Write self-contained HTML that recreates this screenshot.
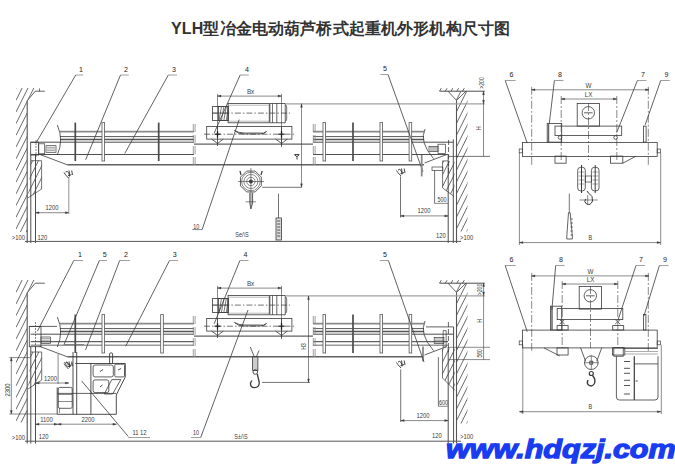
<!DOCTYPE html>
<html><head><meta charset="utf-8"><style>
html,body{margin:0;padding:0;background:#fff;width:675px;height:468px;overflow:hidden;position:relative}
.title{position:absolute;left:171px;top:19px;letter-spacing:0.14px;font-family:"Liberation Sans", sans-serif;font-weight:bold;font-size:16px;color:#333;white-space:nowrap;line-height:20px}
.wm{position:absolute;left:446px;top:433.7px;font-family:"Liberation Sans", sans-serif;font-weight:bold;font-style:italic;font-size:26px;color:#1a3cf0;white-space:nowrap;line-height:30px;transform:scaleX(1.175);transform-origin:0 0;-webkit-text-stroke:1.3px #1a3cf0}
</style></head><body>
<div class="title">YLH型冶金电动葫芦桥式起重机外形机构尺寸图</div>
<svg width="675" height="468" viewBox="0 0 675 468" style="position:absolute;left:0;top:0" font-family="'Liberation Sans', sans-serif">
<clipPath id="c1"><polygon points="16,88 36,88 27.2,100.8 27.2,232 16,232"/></clipPath>
<g clip-path="url(#c1)">
<line x1="16" y1="76.9" x2="56" y2="-3.1" stroke="#444" stroke-width="0.8" />
<line x1="16" y1="88.6" x2="56" y2="8.6" stroke="#444" stroke-width="0.8" />
<line x1="16" y1="100.3" x2="56" y2="20.3" stroke="#444" stroke-width="0.8" />
<line x1="16" y1="112" x2="56" y2="32" stroke="#444" stroke-width="0.8" />
<line x1="16" y1="123.7" x2="56" y2="43.7" stroke="#444" stroke-width="0.8" />
<line x1="16" y1="135.4" x2="56" y2="55.4" stroke="#444" stroke-width="0.8" />
<line x1="16" y1="147.1" x2="56" y2="67.1" stroke="#444" stroke-width="0.8" />
<line x1="16" y1="158.8" x2="56" y2="78.8" stroke="#444" stroke-width="0.8" />
<line x1="16" y1="170.5" x2="56" y2="90.5" stroke="#444" stroke-width="0.8" />
<line x1="16" y1="182.2" x2="56" y2="102.2" stroke="#444" stroke-width="0.8" />
<line x1="16" y1="193.9" x2="56" y2="113.9" stroke="#444" stroke-width="0.8" />
<line x1="16" y1="205.6" x2="56" y2="125.6" stroke="#444" stroke-width="0.8" />
<line x1="16" y1="217.3" x2="56" y2="137.3" stroke="#444" stroke-width="0.8" />
<line x1="16" y1="229" x2="56" y2="149" stroke="#444" stroke-width="0.8" />
<line x1="16" y1="240.7" x2="56" y2="160.7" stroke="#444" stroke-width="0.8" />
<line x1="16" y1="252.4" x2="56" y2="172.4" stroke="#444" stroke-width="0.8" />
<line x1="16" y1="264.1" x2="56" y2="184.1" stroke="#444" stroke-width="0.8" />
<line x1="16" y1="275.8" x2="56" y2="195.8" stroke="#444" stroke-width="0.8" />
</g>
<line x1="27.2" y1="100.8" x2="27.2" y2="243" stroke="#555" stroke-width="1.1" />
<polyline points="27.2,100.8 35.2,91.2 44.8,91.2" stroke="#3a3a3a" stroke-width="0.8" fill="none" />
<line x1="39.5" y1="88.5" x2="39.5" y2="91.2" stroke="#3a3a3a" stroke-width="0.7" />
<line x1="439.6" y1="91.2" x2="484.8" y2="91.2" stroke="#3a3a3a" stroke-width="0.9" />
<line x1="439.5" y1="91.2" x2="441.3" y2="88.2" stroke="#3a3a3a" stroke-width="0.8" />
<line x1="445.3" y1="91.2" x2="447.1" y2="88.2" stroke="#3a3a3a" stroke-width="0.8" />
<line x1="451" y1="91.2" x2="452.8" y2="88.2" stroke="#3a3a3a" stroke-width="0.8" />
<line x1="456.8" y1="91.2" x2="458.6" y2="88.2" stroke="#3a3a3a" stroke-width="0.8" />
<line x1="462.5" y1="91.2" x2="464.3" y2="88.2" stroke="#3a3a3a" stroke-width="0.8" />
<clipPath id="c2"><polygon points="449,91.2 467.5,91.2 467.5,231.6 456.5,231.6 456.5,100.4"/></clipPath>
<g clip-path="url(#c2)">
<line x1="456.5" y1="100" x2="496.5" y2="20" stroke="#444" stroke-width="0.8" />
<line x1="456.5" y1="111.7" x2="496.5" y2="31.7" stroke="#444" stroke-width="0.8" />
<line x1="456.5" y1="123.4" x2="496.5" y2="43.4" stroke="#444" stroke-width="0.8" />
<line x1="456.5" y1="135.1" x2="496.5" y2="55.1" stroke="#444" stroke-width="0.8" />
<line x1="456.5" y1="146.8" x2="496.5" y2="66.8" stroke="#444" stroke-width="0.8" />
<line x1="456.5" y1="158.5" x2="496.5" y2="78.5" stroke="#444" stroke-width="0.8" />
<line x1="456.5" y1="170.2" x2="496.5" y2="90.2" stroke="#444" stroke-width="0.8" />
<line x1="456.5" y1="181.9" x2="496.5" y2="101.9" stroke="#444" stroke-width="0.8" />
<line x1="456.5" y1="193.6" x2="496.5" y2="113.6" stroke="#444" stroke-width="0.8" />
<line x1="456.5" y1="205.3" x2="496.5" y2="125.3" stroke="#444" stroke-width="0.8" />
<line x1="456.5" y1="217" x2="496.5" y2="137" stroke="#444" stroke-width="0.8" />
<line x1="456.5" y1="228.7" x2="496.5" y2="148.7" stroke="#444" stroke-width="0.8" />
<line x1="456.5" y1="240.4" x2="496.5" y2="160.4" stroke="#444" stroke-width="0.8" />
<line x1="456.5" y1="252.1" x2="496.5" y2="172.1" stroke="#444" stroke-width="0.8" />
<line x1="456.5" y1="263.8" x2="496.5" y2="183.8" stroke="#444" stroke-width="0.8" />
<line x1="456.5" y1="275.5" x2="496.5" y2="195.5" stroke="#444" stroke-width="0.8" />
</g>
<polyline points="448,91.2 456.5,100.4 466,91.2" stroke="#3a3a3a" stroke-width="0.8" fill="none" />
<line x1="456.5" y1="100.4" x2="456.5" y2="243" stroke="#555" stroke-width="1.1" />
<line x1="60" y1="131.6" x2="194" y2="131.6" stroke="#8a8a8a" stroke-width="1.7" />
<line x1="313" y1="131.6" x2="424" y2="131.6" stroke="#8a8a8a" stroke-width="1.7" />
<line x1="60" y1="136.6" x2="194" y2="136.6" stroke="#444" stroke-width="0.9" />
<line x1="313" y1="136.6" x2="424" y2="136.6" stroke="#444" stroke-width="0.9" />
<line x1="60" y1="139.5" x2="194" y2="139.5" stroke="#555" stroke-width="1.5" />
<line x1="313" y1="139.5" x2="424" y2="139.5" stroke="#555" stroke-width="1.5" />
<line x1="30.7" y1="142.2" x2="194" y2="142.2" stroke="#3a3a3a" stroke-width="0.9" />
<line x1="313" y1="142.2" x2="453.3" y2="142.2" stroke="#3a3a3a" stroke-width="0.9" />
<line x1="194" y1="144.1" x2="313" y2="144.1" stroke="#3a3a3a" stroke-width="1.0" />
<line x1="30.7" y1="154.5" x2="194" y2="154.5" stroke="#3a3a3a" stroke-width="0.9" />
<line x1="313" y1="154.5" x2="448" y2="154.5" stroke="#3a3a3a" stroke-width="0.9" />
<line x1="67.3" y1="164.8" x2="424" y2="164.8" stroke="#606060" stroke-width="1.5" />
<line x1="39.5" y1="154.3" x2="67.3" y2="164.8" stroke="#3a3a3a" stroke-width="0.8" />
<line x1="424.5" y1="163" x2="446.3" y2="154.7" stroke="#3a3a3a" stroke-width="0.8" />
<path d="M57.3,125 Q64,140 57.3,155" stroke="#3a3a3a" stroke-width="0.8" fill="none" />
<path d="M425,129 Q419,142 433.5,158.6" stroke="#3a3a3a" stroke-width="0.8" fill="none" />
<line x1="75.3" y1="122.6" x2="75.3" y2="161" stroke="#4a4a4a" stroke-width="1.7" />
<line x1="353" y1="122.6" x2="353" y2="161" stroke="#4a4a4a" stroke-width="1.7" />
<line x1="158.7" y1="122.6" x2="158.7" y2="161" stroke="#4a4a4a" stroke-width="1.7" />
<rect x="102" y="122.6" width="2.6" height="38.4" stroke="#555" stroke-width="0.8" fill="#fff" />
<rect x="323" y="122.6" width="2.6" height="38.4" stroke="#555" stroke-width="0.8" fill="#fff" />
<rect x="380" y="122.6" width="2.6" height="38.4" stroke="#555" stroke-width="0.8" fill="#fff" />
<rect x="409.1" y="122.6" width="2.6" height="38.4" stroke="#555" stroke-width="0.8" fill="#fff" />
<path d="M193.3,124 V167" stroke="#888" stroke-width="0.8" fill="none" stroke-dasharray="8,3"/>
<path d="M195.1,124 V167" stroke="#888" stroke-width="0.8" fill="none" stroke-dasharray="8,3"/>
<path d="M313.3,124 V167" stroke="#888" stroke-width="0.8" fill="none" stroke-dasharray="8,3"/>
<path d="M315.1,124 V167" stroke="#888" stroke-width="0.8" fill="none" stroke-dasharray="8,3"/>
<rect x="30.7" y="142.3" width="8" height="12.7" stroke="#3a3a3a" stroke-width="0.8" fill="none" />
<line x1="36" y1="140" x2="36" y2="157" stroke="#3a3a3a" stroke-width="0.6" stroke-dasharray="2,1"/>
<rect x="38.7" y="143.8" width="6" height="10" stroke="#3a3a3a" stroke-width="0.7" fill="none" />
<rect x="46" y="145.7" width="10" height="6.6" stroke="#3a3a3a" stroke-width="0.7" fill="none" />
<line x1="46.8" y1="147.35" x2="55.2" y2="147.35" stroke="#666" stroke-width="0.6" />
<line x1="46.8" y1="149" x2="55.2" y2="149" stroke="#666" stroke-width="0.6" />
<line x1="46.8" y1="150.65" x2="55.2" y2="150.65" stroke="#666" stroke-width="0.6" />
<rect x="438" y="144.2" width="7.6" height="9.3" stroke="#3a3a3a" stroke-width="0.7" fill="none" />
<rect x="429" y="146.4" width="9" height="5.1" stroke="#3a3a3a" stroke-width="0.7" fill="none" />
<line x1="429.8" y1="147.68" x2="437.2" y2="147.68" stroke="#666" stroke-width="0.6" />
<line x1="429.8" y1="148.95" x2="437.2" y2="148.95" stroke="#666" stroke-width="0.6" />
<line x1="429.8" y1="150.22" x2="437.2" y2="150.22" stroke="#666" stroke-width="0.6" />
<line x1="448.6" y1="140" x2="448.6" y2="175" stroke="#3a3a3a" stroke-width="0.8" stroke-dasharray="5,2"/>
<text x="0" y="0" font-size="7" text-anchor="middle" fill="#3a3a3a" transform="translate(250.6 93.8) scale(0.9 1)" >Bx</text>
<line x1="217.5" y1="96.1" x2="281.5" y2="96.1" stroke="#3a3a3a" stroke-width="0.6" />
<polygon points="217.5,96.1 221,95.1 221,97.1" stroke="#3a3a3a" stroke-width="0.3" fill="#3a3a3a" />
<polygon points="281.5,96.1 278,95.1 278,97.1" stroke="#3a3a3a" stroke-width="0.3" fill="#3a3a3a" />
<line x1="217.5" y1="93.9" x2="217.5" y2="129.4" stroke="#3a3a3a" stroke-width="0.6" />
<line x1="281.5" y1="93.9" x2="281.5" y2="147.2" stroke="#3a3a3a" stroke-width="0.6" />
<rect x="212.6" y="106.5" width="15.5" height="14.1" stroke="#3a3a3a" stroke-width="0.8" fill="none" />
<rect x="218.5" y="106.5" width="9.6" height="14.1" stroke="#3a3a3a" stroke-width="0.8" fill="none" />
<line x1="219" y1="120.6" x2="221.5" y2="106.5" stroke="#555" stroke-width="0.8" />
<line x1="221.4" y1="120.6" x2="223.9" y2="106.5" stroke="#555" stroke-width="0.8" />
<line x1="223.8" y1="120.6" x2="226.3" y2="106.5" stroke="#555" stroke-width="0.8" />
<line x1="226.2" y1="120.6" x2="228.7" y2="106.5" stroke="#555" stroke-width="0.8" />
<line x1="212.6" y1="113.1" x2="228" y2="113.1" stroke="#3a3a3a" stroke-width="0.6" />
<rect x="228.1" y="103.5" width="57.1" height="19.3" stroke="#3a3a3a" stroke-width="0.8" fill="none" />
<line x1="228.1" y1="105.2" x2="269.6" y2="105.2" stroke="#777" stroke-width="0.5" />
<line x1="228.1" y1="121.2" x2="269.6" y2="121.2" stroke="#777" stroke-width="0.5" />
<line x1="269.6" y1="103.5" x2="269.6" y2="122.8" stroke="#666" stroke-width="1.6" />
<line x1="272.5" y1="103.5" x2="272.5" y2="122.8" stroke="#3a3a3a" stroke-width="0.7" />
<line x1="276.8" y1="103.5" x2="276.8" y2="122.8" stroke="#3a3a3a" stroke-width="0.8" />
<path d="M285.2,105 q1.5,0 1.5,2 v12 q0,2 -1.5,2" stroke="#3a3a3a" stroke-width="0.7" fill="none" />
<line x1="211.9" y1="113.1" x2="290" y2="113.1" stroke="#3a3a3a" stroke-width="0.7" stroke-dasharray="6,2,1.5,2"/>
<line x1="285" y1="103.8" x2="484.8" y2="103.8" stroke="#a0a0a0" stroke-width="1.3" />
<rect x="206.7" y="126.5" width="85.2" height="12.6" stroke="#3a3a3a" stroke-width="0.8" fill="none" />
<line x1="204" y1="134.2" x2="294" y2="134.2" stroke="#3a3a3a" stroke-width="0.7" stroke-dasharray="6,2,1.5,2"/>
<line x1="217.5" y1="127" x2="217.5" y2="146" stroke="#3a3a3a" stroke-width="0.8" />
<line x1="214.5" y1="134.2" x2="220.5" y2="134.2" stroke="#222" stroke-width="1.2" />
<line x1="217.5" y1="131" x2="217.5" y2="137.5" stroke="#222" stroke-width="1.3" />
<polyline points="211.7,139.1 217.5,143.5 223.3,139.1" stroke="#3a3a3a" stroke-width="0.8" fill="none" />
<line x1="281.5" y1="127" x2="281.5" y2="146" stroke="#3a3a3a" stroke-width="0.8" />
<line x1="278.5" y1="134.2" x2="284.5" y2="134.2" stroke="#222" stroke-width="1.2" />
<line x1="281.5" y1="131" x2="281.5" y2="137.5" stroke="#222" stroke-width="1.3" />
<polyline points="275.7,139.1 281.5,143.5 287.3,139.1" stroke="#3a3a3a" stroke-width="0.8" fill="none" />
<path d="M234.5,130.5 q3,3.5 10,3.5 h15 q5,0 7,-2.5 q-2,2.5 -7,1.5 h-15 q-6,0 -10,-2.5" stroke="#3a3a3a" stroke-width="0.8" fill="none" />
<text x="0" y="0" font-size="7.5" text-anchor="middle" fill="#222" transform="translate(81 71.5) scale(0.95 1)" >1</text>
<line x1="75.7" y1="75" x2="83.2" y2="75" stroke="#777" stroke-width="0.7" />
<line x1="75.7" y1="75" x2="36.6" y2="142" stroke="#3a3a3a" stroke-width="0.8" />
<text x="0" y="0" font-size="7.5" text-anchor="middle" fill="#222" transform="translate(126 71.5) scale(0.95 1)" >2</text>
<line x1="120.5" y1="75" x2="128.8" y2="75" stroke="#777" stroke-width="0.7" />
<line x1="120.5" y1="75" x2="85.7" y2="159.7" stroke="#3a3a3a" stroke-width="0.8" />
<text x="0" y="0" font-size="7.5" text-anchor="middle" fill="#222" transform="translate(174 71.5) scale(0.95 1)" >3</text>
<line x1="168.3" y1="75" x2="177" y2="75" stroke="#777" stroke-width="0.7" />
<line x1="168.3" y1="75" x2="124.8" y2="153.4" stroke="#3a3a3a" stroke-width="0.8" />
<text x="0" y="0" font-size="7.5" text-anchor="middle" fill="#222" transform="translate(247 71.5) scale(0.95 1)" >4</text>
<line x1="240.2" y1="75" x2="248.8" y2="75" stroke="#777" stroke-width="0.7" />
<line x1="240.2" y1="75" x2="214.2" y2="133" stroke="#3a3a3a" stroke-width="0.8" />
<text x="0" y="0" font-size="7.5" text-anchor="middle" fill="#222" transform="translate(385 71) scale(0.95 1)" >5</text>
<line x1="380.4" y1="74.5" x2="388" y2="74.5" stroke="#777" stroke-width="0.7" />
<line x1="388" y1="74.5" x2="423" y2="172" stroke="#3a3a3a" stroke-width="0.8" />
<text x="0" y="0" font-size="7" text-anchor="middle" fill="#3a3a3a" transform="translate(196.3 228.6) scale(0.78 1)" >10</text>
<line x1="192.3" y1="229.6" x2="202.1" y2="229.6" stroke="#666" stroke-width="0.8" />
<line x1="202.1" y1="229.6" x2="239.2" y2="119.6" stroke="#3a3a3a" stroke-width="0.8" />
<line x1="30.8" y1="155" x2="30.8" y2="243" stroke="#3a3a3a" stroke-width="0.9" />
<line x1="35.5" y1="155" x2="35.5" y2="243" stroke="#3a3a3a" stroke-width="0.9" />
<line x1="453.3" y1="139.4" x2="453.3" y2="243" stroke="#3a3a3a" stroke-width="0.9" />
<line x1="448.2" y1="155" x2="448.2" y2="243" stroke="#3a3a3a" stroke-width="0.9" />
<line x1="25" y1="241.4" x2="461" y2="241.4" stroke="#555" stroke-width="1.0" />
<text x="0" y="0" font-size="7.5" text-anchor="end" fill="#3a3a3a" transform="translate(25 240) scale(0.78 1)" >&gt;100</text>
<text x="0" y="0" font-size="7.5" text-anchor="start" fill="#3a3a3a" transform="translate(37.5 239.5) scale(0.78 1)" >120</text>
<text x="0" y="0" font-size="7.5" text-anchor="middle" fill="#3a3a3a" transform="translate(441 238) scale(0.78 1)" >120</text>
<text x="0" y="0" font-size="7.5" text-anchor="start" fill="#3a3a3a" transform="translate(460 240) scale(0.78 1)" >&gt;100</text>
<line x1="35.5" y1="212.7" x2="68.8" y2="212.7" stroke="#3a3a3a" stroke-width="0.6" />
<polygon points="35.5,212.7 39,211.7 39,213.7" stroke="#3a3a3a" stroke-width="0.3" fill="#3a3a3a" />
<polygon points="68.8,212.7 65.3,211.7 65.3,213.7" stroke="#3a3a3a" stroke-width="0.3" fill="#3a3a3a" />
<text x="0" y="0" font-size="7.5" text-anchor="middle" fill="#3a3a3a" transform="translate(52 210) scale(0.78 1)" >1200</text>
<line x1="68.8" y1="177" x2="68.8" y2="214" stroke="#777" stroke-width="0.8" />
<path d="M64,172.5 q1,2 4.5,5.5 M65.5,172 q2,-1.5 3,0.5 q1,2 1,4 M69,170.5 l0.8,5 M71.7,170.5 l0.8,4.5 M68,175.5 q2,0 3.5,-1" stroke="#333" stroke-width="0.9" fill="none" />
<line x1="400.5" y1="215.9" x2="448.2" y2="215.9" stroke="#3a3a3a" stroke-width="0.6" />
<polygon points="400.5,215.9 404,214.9 404,216.9" stroke="#3a3a3a" stroke-width="0.3" fill="#3a3a3a" />
<polygon points="448.2,215.9 444.7,214.9 444.7,216.9" stroke="#3a3a3a" stroke-width="0.3" fill="#3a3a3a" />
<text x="0" y="0" font-size="7.5" text-anchor="middle" fill="#3a3a3a" transform="translate(424 213.3) scale(0.78 1)" >1200</text>
<line x1="400.5" y1="176.4" x2="400.5" y2="217.5" stroke="#3a3a3a" stroke-width="0.7" />
<path d="M396.5,170.5 q1,2 4.5,5.5 M398,170 q2,-1.5 3,0.5 q1,2 1,4 M401.5,168.5 l0.8,5 M404.2,168.5 l0.8,4.5 M400.5,173.5 q2,0 3.5,-1" stroke="#333" stroke-width="0.9" fill="none" />
<line x1="434.6" y1="170.5" x2="434.6" y2="203.4" stroke="#3a3a3a" stroke-width="0.7" />
<line x1="434.6" y1="203.4" x2="448" y2="203.4" stroke="#3a3a3a" stroke-width="0.6" />
<text x="0" y="0" font-size="7" text-anchor="middle" fill="#3a3a3a" transform="translate(442 202.3) scale(0.78 1)" >500</text>
<rect x="432" y="167" width="10.8" height="3.5" stroke="#3a3a3a" stroke-width="0.7" fill="none" />
<line x1="421.7" y1="155" x2="421.7" y2="176.4" stroke="#8a8a8a" stroke-width="1.8" />
<clipPath id="c3"><polygon points="31,160.7 41.6,160.7 41.6,189 27.8,198"/></clipPath>
<g clip-path="url(#c3)">
<line x1="16" y1="76.9" x2="56" y2="-3.1" stroke="#444" stroke-width="0.8" />
<line x1="16" y1="88.6" x2="56" y2="8.6" stroke="#444" stroke-width="0.8" />
<line x1="16" y1="100.3" x2="56" y2="20.3" stroke="#444" stroke-width="0.8" />
<line x1="16" y1="112" x2="56" y2="32" stroke="#444" stroke-width="0.8" />
<line x1="16" y1="123.7" x2="56" y2="43.7" stroke="#444" stroke-width="0.8" />
<line x1="16" y1="135.4" x2="56" y2="55.4" stroke="#444" stroke-width="0.8" />
<line x1="16" y1="147.1" x2="56" y2="67.1" stroke="#444" stroke-width="0.8" />
<line x1="16" y1="158.8" x2="56" y2="78.8" stroke="#444" stroke-width="0.8" />
<line x1="16" y1="170.5" x2="56" y2="90.5" stroke="#444" stroke-width="0.8" />
<line x1="16" y1="182.2" x2="56" y2="102.2" stroke="#444" stroke-width="0.8" />
<line x1="16" y1="193.9" x2="56" y2="113.9" stroke="#444" stroke-width="0.8" />
<line x1="16" y1="205.6" x2="56" y2="125.6" stroke="#444" stroke-width="0.8" />
<line x1="16" y1="217.3" x2="56" y2="137.3" stroke="#444" stroke-width="0.8" />
<line x1="16" y1="229" x2="56" y2="149" stroke="#444" stroke-width="0.8" />
<line x1="16" y1="240.7" x2="56" y2="160.7" stroke="#444" stroke-width="0.8" />
<line x1="16" y1="252.4" x2="56" y2="172.4" stroke="#444" stroke-width="0.8" />
<line x1="16" y1="264.1" x2="56" y2="184.1" stroke="#444" stroke-width="0.8" />
<line x1="16" y1="275.8" x2="56" y2="195.8" stroke="#444" stroke-width="0.8" />
<line x1="16" y1="287.5" x2="56" y2="207.5" stroke="#444" stroke-width="0.8" />
<line x1="16" y1="299.2" x2="56" y2="219.2" stroke="#444" stroke-width="0.8" />
</g>
<polyline points="31,160.7 41.6,160.7 41.6,189 27.8,198" stroke="#3a3a3a" stroke-width="0.7" fill="none" />
<clipPath id="c4"><polygon points="442.6,160.9 454.5,160.9 454.5,196.4 442.6,187.9"/></clipPath>
<g clip-path="url(#c4)">
<line x1="420" y1="56" x2="460" y2="-24" stroke="#444" stroke-width="0.8" />
<line x1="420" y1="67.7" x2="460" y2="-12.3" stroke="#444" stroke-width="0.8" />
<line x1="420" y1="79.4" x2="460" y2="-0.6" stroke="#444" stroke-width="0.8" />
<line x1="420" y1="91.1" x2="460" y2="11.1" stroke="#444" stroke-width="0.8" />
<line x1="420" y1="102.8" x2="460" y2="22.8" stroke="#444" stroke-width="0.8" />
<line x1="420" y1="114.5" x2="460" y2="34.5" stroke="#444" stroke-width="0.8" />
<line x1="420" y1="126.2" x2="460" y2="46.2" stroke="#444" stroke-width="0.8" />
<line x1="420" y1="137.9" x2="460" y2="57.9" stroke="#444" stroke-width="0.8" />
<line x1="420" y1="149.6" x2="460" y2="69.6" stroke="#444" stroke-width="0.8" />
<line x1="420" y1="161.3" x2="460" y2="81.3" stroke="#444" stroke-width="0.8" />
<line x1="420" y1="173" x2="460" y2="93" stroke="#444" stroke-width="0.8" />
<line x1="420" y1="184.7" x2="460" y2="104.7" stroke="#444" stroke-width="0.8" />
<line x1="420" y1="196.4" x2="460" y2="116.4" stroke="#444" stroke-width="0.8" />
<line x1="420" y1="208.1" x2="460" y2="128.1" stroke="#444" stroke-width="0.8" />
<line x1="420" y1="219.8" x2="460" y2="139.8" stroke="#444" stroke-width="0.8" />
<line x1="420" y1="231.5" x2="460" y2="151.5" stroke="#444" stroke-width="0.8" />
<line x1="420" y1="243.2" x2="460" y2="163.2" stroke="#444" stroke-width="0.8" />
<line x1="420" y1="254.9" x2="460" y2="174.9" stroke="#444" stroke-width="0.8" />
<line x1="420" y1="266.6" x2="460" y2="186.6" stroke="#444" stroke-width="0.8" />
<line x1="420" y1="278.3" x2="460" y2="198.3" stroke="#444" stroke-width="0.8" />
<line x1="420" y1="290" x2="460" y2="210" stroke="#444" stroke-width="0.8" />
<line x1="420" y1="301.7" x2="460" y2="221.7" stroke="#444" stroke-width="0.8" />
<line x1="420" y1="313.4" x2="460" y2="233.4" stroke="#444" stroke-width="0.8" />
<line x1="420" y1="325.1" x2="460" y2="245.1" stroke="#444" stroke-width="0.8" />
</g>
<polyline points="448,160.9 442.6,160.9 442.6,187.9 454,196.4" stroke="#3a3a3a" stroke-width="0.7" fill="none" />
<line x1="483.5" y1="91.2" x2="483.5" y2="103.8" stroke="#3a3a3a" stroke-width="0.6" />
<polygon points="483.5,91.2 482.5,94.7 484.5,94.7" stroke="#3a3a3a" stroke-width="0.3" fill="#3a3a3a" />
<polygon points="483.5,103.8 482.5,100.3 484.5,100.3" stroke="#3a3a3a" stroke-width="0.3" fill="#3a3a3a" />
<line x1="483.5" y1="103.8" x2="483.5" y2="156.4" stroke="#3a3a3a" stroke-width="0.6" />
<line x1="448.7" y1="156.4" x2="490" y2="156.4" stroke="#3a3a3a" stroke-width="0.7" />
<text x="0" y="0" font-size="6.5" text-anchor="middle" fill="#3a3a3a" transform="translate(483.5 83) rotate(-90) scale(0.78 1)" >&gt;200</text>
<text x="0" y="0" font-size="6.5" text-anchor="middle" fill="#3a3a3a" transform="translate(480.5 128.3) rotate(-90) scale(0.78 1)" >H</text>
<polygon points="261.34,185.82 255.22,191.94 246.58,191.94 240.46,185.82 240.46,177.18 246.58,171.06 255.22,171.06 261.34,177.18" stroke="#3a3a3a" stroke-width="0.8" fill="none"/>
<circle cx="250.9" cy="181.5" r="9.3" stroke="#3a3a3a" stroke-width="0.6" fill="none"/>
<circle cx="250.9" cy="181.5" r="7" stroke="#3a3a3a" stroke-width="0.6" fill="none"/>
<circle cx="250.9" cy="181.5" r="4.2" stroke="#3a3a3a" stroke-width="0.6" fill="none"/>
<circle cx="250.9" cy="181.5" r="1.8" stroke="#3a3a3a" stroke-width="0.6" fill="#444"/>
<line x1="238" y1="181.5" x2="264" y2="181.5" stroke="#3a3a3a" stroke-width="0.6" />
<line x1="250.9" y1="168" x2="250.9" y2="194" stroke="#3a3a3a" stroke-width="0.6" />
<line x1="240" y1="170.9" x2="241" y2="175" stroke="#3a3a3a" stroke-width="1.2" />
<line x1="262.2" y1="170.9" x2="261" y2="175" stroke="#3a3a3a" stroke-width="1.2" />
<line x1="262.2" y1="187.3" x2="301.5" y2="187.3" stroke="#3a3a3a" stroke-width="0.7" />
<line x1="301.5" y1="103.8" x2="301.5" y2="187.3" stroke="#3a3a3a" stroke-width="0.6" />
<polygon points="301.5,103.8 300.5,107.3 302.5,107.3" stroke="#3a3a3a" stroke-width="0.3" fill="#3a3a3a" />
<polygon points="301.5,187.3 300.5,183.8 302.5,183.8" stroke="#3a3a3a" stroke-width="0.3" fill="#3a3a3a" />
<path d="M249.8,192.7 V203 L250.9,209 L252.6,203 V192.7" stroke="#3a3a3a" stroke-width="0.8" fill="#bbb" />
<line x1="245.5" y1="201.8" x2="256" y2="201.8" stroke="#3a3a3a" stroke-width="0.6" />
<path d="M294.3,154.6 h5 M294.8,154.8 q2.2,3.5 4,0 M297,157.2 v2.2" stroke="#333" stroke-width="1.0" fill="none" />
<line x1="278.5" y1="193.6" x2="278.5" y2="218" stroke="#3a3a3a" stroke-width="0.7" />
<rect x="276" y="218" width="5.5" height="22" stroke="#3a3a3a" stroke-width="0.8" fill="#ddd" />
<line x1="277.2" y1="221" x2="280.3" y2="221" stroke="#444" stroke-width="0.9" />
<line x1="277.2" y1="224" x2="280.3" y2="224" stroke="#444" stroke-width="0.9" />
<line x1="277.2" y1="227" x2="280.3" y2="227" stroke="#444" stroke-width="0.9" />
<line x1="277.2" y1="230" x2="280.3" y2="230" stroke="#444" stroke-width="0.9" />
<line x1="277.2" y1="233" x2="280.3" y2="233" stroke="#444" stroke-width="0.9" />
<line x1="277.2" y1="236" x2="280.3" y2="236" stroke="#444" stroke-width="0.9" />
<text x="0" y="0" font-size="7" text-anchor="middle" fill="#3a3a3a" transform="translate(242 237.3) scale(0.78 1)" >Se/\S</text>
<text x="0" y="0" font-size="7" text-anchor="middle" fill="#3a3a3a" transform="translate(588.5 87.5) scale(0.9 1)" >W</text>
<line x1="531.5" y1="89.8" x2="649" y2="89.8" stroke="#3a3a3a" stroke-width="0.6" />
<polygon points="531.5,89.8 535,88.8 535,90.8" stroke="#3a3a3a" stroke-width="0.3" fill="#3a3a3a" />
<polygon points="649,89.8 645.5,88.8 645.5,90.8" stroke="#3a3a3a" stroke-width="0.3" fill="#3a3a3a" />
<text x="0" y="0" font-size="7" text-anchor="middle" fill="#3a3a3a" transform="translate(588.5 96.5) scale(0.9 1)" >LX</text>
<line x1="561.2" y1="99" x2="616.8" y2="99" stroke="#3a3a3a" stroke-width="0.6" />
<polygon points="561.2,99 564.7,98 564.7,100" stroke="#3a3a3a" stroke-width="0.3" fill="#3a3a3a" />
<polygon points="616.8,99 613.3,98 613.3,100" stroke="#3a3a3a" stroke-width="0.3" fill="#3a3a3a" />
<line x1="531.7" y1="86.8" x2="531.7" y2="165" stroke="#3a3a3a" stroke-width="0.6" stroke-dasharray="8,2,2,2"/>
<line x1="648.3" y1="86.8" x2="648.3" y2="165" stroke="#3a3a3a" stroke-width="0.6" stroke-dasharray="8,2,2,2"/>
<line x1="561.2" y1="96" x2="561.2" y2="160" stroke="#3a3a3a" stroke-width="0.6" stroke-dasharray="8,2,2,2"/>
<line x1="616.8" y1="96" x2="616.8" y2="160" stroke="#3a3a3a" stroke-width="0.6" stroke-dasharray="8,2,2,2"/>
<line x1="588.5" y1="103" x2="588.5" y2="160" stroke="#3a3a3a" stroke-width="0.6" stroke-dasharray="8,2,2,2"/>
<rect x="577.2" y="103.4" width="22.2" height="22.7" stroke="#3a3a3a" stroke-width="0.8" fill="none" />
<circle cx="588.3" cy="112.8" r="6.2" stroke="#3a3a3a" stroke-width="0.8" fill="none"/>
<line x1="584" y1="112.8" x2="592.6" y2="112.8" stroke="#3a3a3a" stroke-width="0.8" />
<rect x="555" y="126.1" width="66.7" height="9.3" stroke="#3a3a3a" stroke-width="0.8" fill="none" />
<rect x="547.2" y="123.4" width="14.5" height="18.7" stroke="#3a3a3a" stroke-width="0.8" fill="none" />
<line x1="548.5" y1="123.4" x2="548.5" y2="142" stroke="#666" stroke-width="1.5" />
<rect x="643.4" y="126.1" width="2.7" height="16" stroke="#3a3a3a" stroke-width="0.8" fill="none" />
<circle cx="560" cy="137.5" r="1.8" stroke="#3a3a3a" stroke-width="0.8" fill="none"/>
<circle cx="615.6" cy="137.5" r="1.8" stroke="#3a3a3a" stroke-width="0.8" fill="none"/>
<rect x="522.6" y="142.4" width="134.6" height="14" stroke="#3a3a3a" stroke-width="0.8" fill="none" />
<rect x="519.2" y="149.02" width="3.4" height="3.8" stroke="#3a3a3a" stroke-width="0.7" fill="none" />
<rect x="657.2" y="149.02" width="3.4" height="3.8" stroke="#3a3a3a" stroke-width="0.7" fill="none" />
<rect x="555" y="156.1" width="11.1" height="7.1" stroke="#3a3a3a" stroke-width="0.8" fill="none" />
<rect x="610.6" y="156.1" width="12.2" height="7.1" stroke="#3a3a3a" stroke-width="0.8" fill="none" />
<line x1="622.8" y1="163.2" x2="636.1" y2="156.1" stroke="#3a3a3a" stroke-width="0.8" />
<line x1="519.4" y1="152.82" x2="519.4" y2="245" stroke="#3a3a3a" stroke-width="0.6" />
<line x1="660.7" y1="152.82" x2="660.7" y2="245" stroke="#3a3a3a" stroke-width="0.6" />
<text x="0" y="0" font-size="7.5" text-anchor="middle" fill="#222" transform="translate(511.4 77) scale(0.95 1)" >6</text>
<line x1="505.2" y1="80.5" x2="515.6" y2="80.5" stroke="#777" stroke-width="0.7" />
<line x1="505.2" y1="80.5" x2="527.2" y2="143" stroke="#3a3a3a" stroke-width="0.8" />
<text x="0" y="0" font-size="7.5" text-anchor="middle" fill="#222" transform="translate(560.1 77) scale(0.95 1)" >8</text>
<line x1="554.4" y1="80.5" x2="563.5" y2="80.5" stroke="#777" stroke-width="0.7" />
<line x1="554.4" y1="80.5" x2="549.3" y2="123.5" stroke="#3a3a3a" stroke-width="0.8" />
<text x="0" y="0" font-size="7.5" text-anchor="middle" fill="#222" transform="translate(643 77) scale(0.95 1)" >7</text>
<line x1="637.4" y1="80.5" x2="646.5" y2="80.5" stroke="#777" stroke-width="0.7" />
<line x1="637.4" y1="80.5" x2="616.7" y2="132.6" stroke="#3a3a3a" stroke-width="0.8" />
<text x="0" y="0" font-size="7.5" text-anchor="middle" fill="#222" transform="translate(666.4 77) scale(0.95 1)" >9</text>
<line x1="660.7" y1="80.5" x2="669.8" y2="80.5" stroke="#777" stroke-width="0.7" />
<line x1="660.7" y1="80.5" x2="645.2" y2="124.8" stroke="#3a3a3a" stroke-width="0.8" />
<line x1="519.4" y1="242.6" x2="660.6" y2="242.6" stroke="#3a3a3a" stroke-width="0.6" />
<polygon points="519.4,242.6 522.9,241.6 522.9,243.6" stroke="#3a3a3a" stroke-width="0.3" fill="#3a3a3a" />
<polygon points="660.6,242.6 657.1,241.6 657.1,243.6" stroke="#3a3a3a" stroke-width="0.3" fill="#3a3a3a" />
<text x="0" y="0" font-size="7" text-anchor="middle" fill="#3a3a3a" transform="translate(590.2 240) scale(0.78 1)" >B</text>
<rect x="577.7" y="167.3" width="7.6" height="23.6" stroke="#3a3a3a" stroke-width="0.8" fill="none" rx="3"/>
<line x1="578.7" y1="172" x2="584.3" y2="172" stroke="#666" stroke-width="0.6" />
<line x1="578.7" y1="176" x2="584.3" y2="176" stroke="#666" stroke-width="0.6" />
<line x1="578.7" y1="180" x2="584.3" y2="180" stroke="#666" stroke-width="0.6" />
<line x1="578.7" y1="184" x2="584.3" y2="184" stroke="#666" stroke-width="0.6" />
<rect x="591.4" y="167.3" width="7.6" height="23.6" stroke="#3a3a3a" stroke-width="0.8" fill="none" rx="3"/>
<line x1="592.4" y1="172" x2="598" y2="172" stroke="#666" stroke-width="0.6" />
<line x1="592.4" y1="176" x2="598" y2="176" stroke="#666" stroke-width="0.6" />
<line x1="592.4" y1="180" x2="598" y2="180" stroke="#666" stroke-width="0.6" />
<line x1="592.4" y1="184" x2="598" y2="184" stroke="#666" stroke-width="0.6" />
<line x1="581.5" y1="165" x2="581.5" y2="193" stroke="#3a3a3a" stroke-width="1.0" />
<line x1="595.2" y1="165" x2="595.2" y2="193" stroke="#3a3a3a" stroke-width="1.0" />
<rect x="585.3" y="176" width="6.1" height="6" stroke="#3a3a3a" stroke-width="0.7" fill="none" />
<path d="M587,191 L588.5,193 q5,3 4,8 q-2,5 -6,3 q-3,-2 -1,-5" stroke="#3a3a3a" stroke-width="1.0" fill="none" />
<line x1="579.5" y1="200" x2="597.7" y2="200" stroke="#3a3a3a" stroke-width="0.6" />
<line x1="587.7" y1="195" x2="587.7" y2="205" stroke="#3a3a3a" stroke-width="0.6" />
<line x1="569.3" y1="193.6" x2="569.3" y2="212.7" stroke="#3a3a3a" stroke-width="0.7" />
<polygon points="568.5,212.7 570.2,212.7 572.3,236 572.3,239 566.8,239 566.8,236" stroke="#3a3a3a" stroke-width="0.8" fill="none" />
<line x1="570.5" y1="219" x2="572.8" y2="219" stroke="#444" stroke-width="0.8" />
<line x1="570.5" y1="223" x2="572.8" y2="223" stroke="#444" stroke-width="0.8" />
<line x1="570.5" y1="227" x2="572.8" y2="227" stroke="#444" stroke-width="0.8" />
<line x1="570.5" y1="231" x2="572.8" y2="231" stroke="#444" stroke-width="0.8" />
<line x1="570.5" y1="235" x2="572.8" y2="235" stroke="#444" stroke-width="0.8" />
<clipPath id="c5"><polygon points="16,280 36,280 27.2,292.8 27.2,422.5 16,422.5"/></clipPath>
<g clip-path="url(#c5)">
<line x1="16" y1="268.9" x2="56" y2="188.9" stroke="#444" stroke-width="0.8" />
<line x1="16" y1="280.6" x2="56" y2="200.6" stroke="#444" stroke-width="0.8" />
<line x1="16" y1="292.3" x2="56" y2="212.3" stroke="#444" stroke-width="0.8" />
<line x1="16" y1="304" x2="56" y2="224" stroke="#444" stroke-width="0.8" />
<line x1="16" y1="315.7" x2="56" y2="235.7" stroke="#444" stroke-width="0.8" />
<line x1="16" y1="327.4" x2="56" y2="247.4" stroke="#444" stroke-width="0.8" />
<line x1="16" y1="339.1" x2="56" y2="259.1" stroke="#444" stroke-width="0.8" />
<line x1="16" y1="350.8" x2="56" y2="270.8" stroke="#444" stroke-width="0.8" />
<line x1="16" y1="362.5" x2="56" y2="282.5" stroke="#444" stroke-width="0.8" />
<line x1="16" y1="374.2" x2="56" y2="294.2" stroke="#444" stroke-width="0.8" />
<line x1="16" y1="385.9" x2="56" y2="305.9" stroke="#444" stroke-width="0.8" />
<line x1="16" y1="397.6" x2="56" y2="317.6" stroke="#444" stroke-width="0.8" />
<line x1="16" y1="409.3" x2="56" y2="329.3" stroke="#444" stroke-width="0.8" />
<line x1="16" y1="421" x2="56" y2="341" stroke="#444" stroke-width="0.8" />
<line x1="16" y1="432.7" x2="56" y2="352.7" stroke="#444" stroke-width="0.8" />
<line x1="16" y1="444.4" x2="56" y2="364.4" stroke="#444" stroke-width="0.8" />
<line x1="16" y1="456.1" x2="56" y2="376.1" stroke="#444" stroke-width="0.8" />
<line x1="16" y1="467.8" x2="56" y2="387.8" stroke="#444" stroke-width="0.8" />
</g>
<line x1="27.2" y1="292.8" x2="27.2" y2="443.5" stroke="#555" stroke-width="1.1" />
<polyline points="27.2,292.8 35.2,283.2 44.8,283.2" stroke="#3a3a3a" stroke-width="0.8" fill="none" />
<line x1="439.6" y1="283.2" x2="484.8" y2="283.2" stroke="#3a3a3a" stroke-width="0.9" />
<line x1="439.5" y1="283.2" x2="441.3" y2="280.2" stroke="#3a3a3a" stroke-width="0.8" />
<line x1="445.3" y1="283.2" x2="447.1" y2="280.2" stroke="#3a3a3a" stroke-width="0.8" />
<line x1="451" y1="283.2" x2="452.8" y2="280.2" stroke="#3a3a3a" stroke-width="0.8" />
<line x1="456.8" y1="283.2" x2="458.6" y2="280.2" stroke="#3a3a3a" stroke-width="0.8" />
<line x1="462.5" y1="283.2" x2="464.3" y2="280.2" stroke="#3a3a3a" stroke-width="0.8" />
<clipPath id="c6"><polygon points="449,283.2 467.5,283.2 467.5,423.5 456.5,423.5 456.5,292.4"/></clipPath>
<g clip-path="url(#c6)">
<line x1="456.5" y1="292" x2="496.5" y2="212" stroke="#444" stroke-width="0.8" />
<line x1="456.5" y1="303.7" x2="496.5" y2="223.7" stroke="#444" stroke-width="0.8" />
<line x1="456.5" y1="315.4" x2="496.5" y2="235.4" stroke="#444" stroke-width="0.8" />
<line x1="456.5" y1="327.1" x2="496.5" y2="247.1" stroke="#444" stroke-width="0.8" />
<line x1="456.5" y1="338.8" x2="496.5" y2="258.8" stroke="#444" stroke-width="0.8" />
<line x1="456.5" y1="350.5" x2="496.5" y2="270.5" stroke="#444" stroke-width="0.8" />
<line x1="456.5" y1="362.2" x2="496.5" y2="282.2" stroke="#444" stroke-width="0.8" />
<line x1="456.5" y1="373.9" x2="496.5" y2="293.9" stroke="#444" stroke-width="0.8" />
<line x1="456.5" y1="385.6" x2="496.5" y2="305.6" stroke="#444" stroke-width="0.8" />
<line x1="456.5" y1="397.3" x2="496.5" y2="317.3" stroke="#444" stroke-width="0.8" />
<line x1="456.5" y1="409" x2="496.5" y2="329" stroke="#444" stroke-width="0.8" />
<line x1="456.5" y1="420.7" x2="496.5" y2="340.7" stroke="#444" stroke-width="0.8" />
<line x1="456.5" y1="432.4" x2="496.5" y2="352.4" stroke="#444" stroke-width="0.8" />
<line x1="456.5" y1="444.1" x2="496.5" y2="364.1" stroke="#444" stroke-width="0.8" />
<line x1="456.5" y1="455.8" x2="496.5" y2="375.8" stroke="#444" stroke-width="0.8" />
<line x1="456.5" y1="467.5" x2="496.5" y2="387.5" stroke="#444" stroke-width="0.8" />
</g>
<polyline points="448,283.2 456.5,292.4 466,283.2" stroke="#3a3a3a" stroke-width="0.8" fill="none" />
<line x1="456.5" y1="292.4" x2="456.5" y2="443.5" stroke="#555" stroke-width="1.1" />
<line x1="60" y1="323.6" x2="194" y2="323.6" stroke="#8a8a8a" stroke-width="1.7" />
<line x1="313" y1="323.6" x2="424" y2="323.6" stroke="#8a8a8a" stroke-width="1.7" />
<line x1="60" y1="328.6" x2="194" y2="328.6" stroke="#444" stroke-width="0.9" />
<line x1="313" y1="328.6" x2="424" y2="328.6" stroke="#444" stroke-width="0.9" />
<line x1="60" y1="331.5" x2="194" y2="331.5" stroke="#555" stroke-width="1.5" />
<line x1="313" y1="331.5" x2="424" y2="331.5" stroke="#555" stroke-width="1.5" />
<line x1="30.7" y1="334.2" x2="194" y2="334.2" stroke="#3a3a3a" stroke-width="0.9" />
<line x1="313" y1="334.2" x2="453.3" y2="334.2" stroke="#3a3a3a" stroke-width="0.9" />
<line x1="194" y1="336.1" x2="313" y2="336.1" stroke="#3a3a3a" stroke-width="1.0" />
<line x1="30.7" y1="341.7" x2="194" y2="341.7" stroke="#3a3a3a" stroke-width="1.0" />
<line x1="313" y1="341.7" x2="448" y2="341.7" stroke="#3a3a3a" stroke-width="1.0" />
<line x1="30.7" y1="345.2" x2="194" y2="345.2" stroke="#999" stroke-width="1.5" />
<line x1="313" y1="345.2" x2="448" y2="345.2" stroke="#999" stroke-width="1.5" />
<line x1="67.3" y1="356.8" x2="424" y2="356.8" stroke="#606060" stroke-width="1.5" />
<line x1="39.5" y1="346.3" x2="67.3" y2="356.8" stroke="#3a3a3a" stroke-width="0.8" />
<line x1="424.5" y1="355" x2="446.3" y2="346.7" stroke="#3a3a3a" stroke-width="0.8" />
<path d="M57.3,317 Q64,332 57.3,347" stroke="#3a3a3a" stroke-width="0.8" fill="none" />
<path d="M425,321 Q419,334 433.5,350.6" stroke="#3a3a3a" stroke-width="0.8" fill="none" />
<line x1="75.3" y1="314.6" x2="75.3" y2="353" stroke="#4a4a4a" stroke-width="1.7" />
<line x1="353" y1="314.6" x2="353" y2="353" stroke="#4a4a4a" stroke-width="1.7" />
<rect x="102" y="314.6" width="2.6" height="38.4" stroke="#555" stroke-width="0.8" fill="#fff" />
<rect x="323" y="314.6" width="2.6" height="38.4" stroke="#555" stroke-width="0.8" fill="#fff" />
<rect x="380" y="314.6" width="2.6" height="38.4" stroke="#555" stroke-width="0.8" fill="#fff" />
<rect x="409.1" y="314.6" width="2.6" height="38.4" stroke="#555" stroke-width="0.8" fill="#fff" />
<rect x="160.7" y="314.6" width="2.6" height="38.4" stroke="#555" stroke-width="0.8" fill="#fff" />
<path d="M193.3,316 V359" stroke="#888" stroke-width="0.8" fill="none" stroke-dasharray="8,3"/>
<path d="M195.1,316 V359" stroke="#888" stroke-width="0.8" fill="none" stroke-dasharray="8,3"/>
<path d="M313.3,316 V359" stroke="#888" stroke-width="0.8" fill="none" stroke-dasharray="8,3"/>
<path d="M315.1,316 V359" stroke="#888" stroke-width="0.8" fill="none" stroke-dasharray="8,3"/>
<line x1="29.3" y1="326.4" x2="57" y2="326.4" stroke="#3a3a3a" stroke-width="0.8" />
<rect x="29.3" y="326.4" width="11.7" height="20.3" stroke="#3a3a3a" stroke-width="0.8" fill="none" />
<line x1="35.5" y1="322" x2="35.5" y2="350" stroke="#3a3a3a" stroke-width="0.6" stroke-dasharray="2,1"/>
<rect x="41" y="337" width="9.6" height="6.5" stroke="#3a3a3a" stroke-width="0.7" fill="none" />
<line x1="41.8" y1="338.62" x2="49.8" y2="338.62" stroke="#666" stroke-width="0.6" />
<line x1="41.8" y1="340.25" x2="49.8" y2="340.25" stroke="#666" stroke-width="0.6" />
<line x1="41.8" y1="341.88" x2="49.8" y2="341.88" stroke="#666" stroke-width="0.6" />
<line x1="426" y1="326.9" x2="453.6" y2="326.9" stroke="#3a3a3a" stroke-width="0.8" />
<rect x="434.2" y="337.4" width="9.7" height="6" stroke="#3a3a3a" stroke-width="0.7" fill="none" />
<line x1="435" y1="338.9" x2="443.1" y2="338.9" stroke="#666" stroke-width="0.6" />
<line x1="435" y1="340.4" x2="443.1" y2="340.4" stroke="#666" stroke-width="0.6" />
<line x1="435" y1="341.9" x2="443.1" y2="341.9" stroke="#666" stroke-width="0.6" />
<rect x="443.1" y="330.7" width="3" height="16.4" stroke="#3a3a3a" stroke-width="0.7" fill="none" />
<line x1="448.4" y1="322" x2="448.4" y2="352" stroke="#3a3a3a" stroke-width="0.8" stroke-dasharray="5,2"/>
<line x1="423" y1="346.4" x2="423" y2="361.3" stroke="#8a8a8a" stroke-width="1.8" />
<text x="0" y="0" font-size="7" text-anchor="middle" fill="#3a3a3a" transform="translate(250.6 285.8) scale(0.9 1)" >Bx</text>
<line x1="217.5" y1="288.1" x2="281.5" y2="288.1" stroke="#3a3a3a" stroke-width="0.6" />
<polygon points="217.5,288.1 221,287.1 221,289.1" stroke="#3a3a3a" stroke-width="0.3" fill="#3a3a3a" />
<polygon points="281.5,288.1 278,287.1 278,289.1" stroke="#3a3a3a" stroke-width="0.3" fill="#3a3a3a" />
<line x1="217.5" y1="285.9" x2="217.5" y2="321.4" stroke="#3a3a3a" stroke-width="0.6" />
<line x1="281.5" y1="285.9" x2="281.5" y2="339.2" stroke="#3a3a3a" stroke-width="0.6" />
<rect x="212.6" y="298.5" width="15.5" height="14.1" stroke="#3a3a3a" stroke-width="0.8" fill="none" />
<rect x="218.5" y="298.5" width="9.6" height="14.1" stroke="#3a3a3a" stroke-width="0.8" fill="none" />
<line x1="219" y1="312.6" x2="221.5" y2="298.5" stroke="#555" stroke-width="0.8" />
<line x1="221.4" y1="312.6" x2="223.9" y2="298.5" stroke="#555" stroke-width="0.8" />
<line x1="223.8" y1="312.6" x2="226.3" y2="298.5" stroke="#555" stroke-width="0.8" />
<line x1="226.2" y1="312.6" x2="228.7" y2="298.5" stroke="#555" stroke-width="0.8" />
<line x1="212.6" y1="305.1" x2="228" y2="305.1" stroke="#3a3a3a" stroke-width="0.6" />
<rect x="228.1" y="295.5" width="57.1" height="19.3" stroke="#3a3a3a" stroke-width="0.8" fill="none" />
<line x1="228.1" y1="297.2" x2="269.6" y2="297.2" stroke="#777" stroke-width="0.5" />
<line x1="228.1" y1="313.2" x2="269.6" y2="313.2" stroke="#777" stroke-width="0.5" />
<line x1="269.6" y1="295.5" x2="269.6" y2="314.8" stroke="#666" stroke-width="1.6" />
<line x1="272.5" y1="295.5" x2="272.5" y2="314.8" stroke="#3a3a3a" stroke-width="0.7" />
<line x1="276.8" y1="295.5" x2="276.8" y2="314.8" stroke="#3a3a3a" stroke-width="0.8" />
<path d="M285.2,297 q1.5,0 1.5,2 v12 q0,2 -1.5,2" stroke="#3a3a3a" stroke-width="0.7" fill="none" />
<line x1="211.9" y1="305.1" x2="290" y2="305.1" stroke="#3a3a3a" stroke-width="0.7" stroke-dasharray="6,2,1.5,2"/>
<line x1="285" y1="295.8" x2="484.8" y2="295.8" stroke="#a0a0a0" stroke-width="1.3" />
<rect x="206.7" y="318.5" width="85.2" height="12.6" stroke="#3a3a3a" stroke-width="0.8" fill="none" />
<line x1="204" y1="326.2" x2="294" y2="326.2" stroke="#3a3a3a" stroke-width="0.7" stroke-dasharray="6,2,1.5,2"/>
<line x1="217.5" y1="319" x2="217.5" y2="338" stroke="#3a3a3a" stroke-width="0.8" />
<line x1="214.5" y1="326.2" x2="220.5" y2="326.2" stroke="#222" stroke-width="1.2" />
<line x1="217.5" y1="323" x2="217.5" y2="329.5" stroke="#222" stroke-width="1.3" />
<polyline points="211.7,331.1 217.5,335.5 223.3,331.1" stroke="#3a3a3a" stroke-width="0.8" fill="none" />
<line x1="281.5" y1="319" x2="281.5" y2="338" stroke="#3a3a3a" stroke-width="0.8" />
<line x1="278.5" y1="326.2" x2="284.5" y2="326.2" stroke="#222" stroke-width="1.2" />
<line x1="281.5" y1="323" x2="281.5" y2="329.5" stroke="#222" stroke-width="1.3" />
<polyline points="275.7,331.1 281.5,335.5 287.3,331.1" stroke="#3a3a3a" stroke-width="0.8" fill="none" />
<path d="M234.5,322.5 q3,3.5 10,3.5 h15 q5,0 7,-2.5 q-2,2.5 -7,1.5 h-15 q-6,0 -10,-2.5" stroke="#3a3a3a" stroke-width="0.8" fill="none" />
<text x="0" y="0" font-size="7.5" text-anchor="middle" fill="#222" transform="translate(80 257) scale(0.95 1)" >1</text>
<line x1="73.8" y1="260.5" x2="83.4" y2="260.5" stroke="#777" stroke-width="0.7" />
<line x1="73.8" y1="260.5" x2="37.4" y2="331.2" stroke="#3a3a3a" stroke-width="0.8" />
<text x="0" y="0" font-size="7.5" text-anchor="middle" fill="#222" transform="translate(104.7 257) scale(0.95 1)" >5</text>
<line x1="99.4" y1="260.5" x2="106.9" y2="260.5" stroke="#777" stroke-width="0.7" />
<line x1="99.4" y1="260.5" x2="64" y2="344.6" stroke="#3a3a3a" stroke-width="0.8" />
<line x1="64" y1="344.6" x2="84" y2="344.6" stroke="#666" stroke-width="0.8" />
<text x="0" y="0" font-size="7.5" text-anchor="middle" fill="#222" transform="translate(126 257) scale(0.95 1)" >2</text>
<line x1="119.7" y1="260.5" x2="130" y2="260.5" stroke="#777" stroke-width="0.7" />
<line x1="119.7" y1="260.5" x2="85.5" y2="350" stroke="#3a3a3a" stroke-width="0.8" />
<text x="0" y="0" font-size="7.5" text-anchor="middle" fill="#222" transform="translate(174.8 257) scale(0.95 1)" >3</text>
<line x1="169.5" y1="260.5" x2="178" y2="260.5" stroke="#777" stroke-width="0.7" />
<line x1="169.5" y1="260.5" x2="125.7" y2="346.2" stroke="#3a3a3a" stroke-width="0.8" />
<text x="0" y="0" font-size="7.5" text-anchor="middle" fill="#222" transform="translate(245.6 257) scale(0.95 1)" >4</text>
<line x1="239.9" y1="260.5" x2="248.5" y2="260.5" stroke="#777" stroke-width="0.7" />
<line x1="239.9" y1="260.5" x2="214.2" y2="323.8" stroke="#3a3a3a" stroke-width="0.8" />
<text x="0" y="0" font-size="7.5" text-anchor="middle" fill="#222" transform="translate(385.1 257) scale(0.95 1)" >5</text>
<line x1="379.8" y1="260.5" x2="388.4" y2="260.5" stroke="#777" stroke-width="0.7" />
<line x1="388.4" y1="260.5" x2="424" y2="362" stroke="#3a3a3a" stroke-width="0.8" />
<line x1="30.8" y1="347" x2="30.8" y2="443.5" stroke="#3a3a3a" stroke-width="0.9" />
<line x1="35.5" y1="347" x2="35.5" y2="443.5" stroke="#3a3a3a" stroke-width="0.9" />
<line x1="453.6" y1="326.9" x2="453.6" y2="443.5" stroke="#3a3a3a" stroke-width="0.9" />
<line x1="448.2" y1="347" x2="448.2" y2="443.5" stroke="#3a3a3a" stroke-width="0.9" />
<line x1="25" y1="441.2" x2="461" y2="441.2" stroke="#555" stroke-width="1.0" />
<text x="0" y="0" font-size="7.5" text-anchor="end" fill="#3a3a3a" transform="translate(25 439.5) scale(0.78 1)" >&gt;100</text>
<text x="0" y="0" font-size="7.5" text-anchor="start" fill="#3a3a3a" transform="translate(38.8 439) scale(0.78 1)" >120</text>
<text x="0" y="0" font-size="7.5" text-anchor="middle" fill="#3a3a3a" transform="translate(437 438) scale(0.78 1)" >120</text>
<text x="0" y="0" font-size="7.5" text-anchor="start" fill="#3a3a3a" transform="translate(460 439) scale(0.78 1)" >&gt;100</text>
<line x1="11.3" y1="357.6" x2="11.3" y2="414" stroke="#3a3a3a" stroke-width="0.6" />
<polygon points="11.3,357.6 10.3,361.1 12.3,361.1" stroke="#3a3a3a" stroke-width="0.3" fill="#3a3a3a" />
<polygon points="11.3,414 10.3,410.5 12.3,410.5" stroke="#3a3a3a" stroke-width="0.3" fill="#3a3a3a" />
<line x1="9.4" y1="357.6" x2="30" y2="357.6" stroke="#3a3a3a" stroke-width="0.6" />
<line x1="9.4" y1="414" x2="57" y2="414" stroke="#3a3a3a" stroke-width="0.6" />
<text x="0" y="0" font-size="7.5" text-anchor="middle" fill="#3a3a3a" transform="translate(9.8 390) rotate(-90) scale(0.78 1)" >2300</text>
<line x1="35.5" y1="424.2" x2="57.6" y2="424.2" stroke="#3a3a3a" stroke-width="0.6" />
<polygon points="35.5,424.2 39,423.2 39,425.2" stroke="#3a3a3a" stroke-width="0.3" fill="#3a3a3a" />
<polygon points="57.6,424.2 54.1,423.2 54.1,425.2" stroke="#3a3a3a" stroke-width="0.3" fill="#3a3a3a" />
<text x="0" y="0" font-size="7.5" text-anchor="middle" fill="#3a3a3a" transform="translate(46.5 422) scale(0.78 1)" >1100</text>
<line x1="57.6" y1="424.2" x2="116.4" y2="424.2" stroke="#3a3a3a" stroke-width="0.6" />
<polygon points="57.6,424.2 61.1,423.2 61.1,425.2" stroke="#3a3a3a" stroke-width="0.3" fill="#3a3a3a" />
<polygon points="116.4,424.2 112.9,423.2 112.9,425.2" stroke="#3a3a3a" stroke-width="0.3" fill="#3a3a3a" />
<text x="0" y="0" font-size="7.5" text-anchor="middle" fill="#3a3a3a" transform="translate(88 422) scale(0.78 1)" >2200</text>
<line x1="35.7" y1="383" x2="68.8" y2="383" stroke="#3a3a3a" stroke-width="0.6" />
<polygon points="35.7,383 39.2,382 39.2,384" stroke="#3a3a3a" stroke-width="0.3" fill="#3a3a3a" />
<polygon points="68.8,383 65.3,382 65.3,384" stroke="#3a3a3a" stroke-width="0.3" fill="#3a3a3a" />
<text x="0" y="0" font-size="7.5" text-anchor="middle" fill="#3a3a3a" transform="translate(50.5 380.5) scale(0.78 1)" >1200</text>
<line x1="58.1" y1="354" x2="58.1" y2="384" stroke="#3a3a3a" stroke-width="0.6" />
<path d="M64,363.5 q1,2 4.5,5.5 M65.5,363 q2,-1.5 3,0.5 q1,2 1,4 M69,361.5 l0.8,5 M71.7,361.5 l0.8,4.5 M68,366.5 q2,0 3.5,-1" stroke="#333" stroke-width="0.9" fill="none" />
<clipPath id="c7"><polygon points="31,352 41.7,352 41.7,380 28,389"/></clipPath>
<g clip-path="url(#c7)">
<line x1="16" y1="268.9" x2="56" y2="188.9" stroke="#444" stroke-width="0.8" />
<line x1="16" y1="280.6" x2="56" y2="200.6" stroke="#444" stroke-width="0.8" />
<line x1="16" y1="292.3" x2="56" y2="212.3" stroke="#444" stroke-width="0.8" />
<line x1="16" y1="304" x2="56" y2="224" stroke="#444" stroke-width="0.8" />
<line x1="16" y1="315.7" x2="56" y2="235.7" stroke="#444" stroke-width="0.8" />
<line x1="16" y1="327.4" x2="56" y2="247.4" stroke="#444" stroke-width="0.8" />
<line x1="16" y1="339.1" x2="56" y2="259.1" stroke="#444" stroke-width="0.8" />
<line x1="16" y1="350.8" x2="56" y2="270.8" stroke="#444" stroke-width="0.8" />
<line x1="16" y1="362.5" x2="56" y2="282.5" stroke="#444" stroke-width="0.8" />
<line x1="16" y1="374.2" x2="56" y2="294.2" stroke="#444" stroke-width="0.8" />
<line x1="16" y1="385.9" x2="56" y2="305.9" stroke="#444" stroke-width="0.8" />
<line x1="16" y1="397.6" x2="56" y2="317.6" stroke="#444" stroke-width="0.8" />
<line x1="16" y1="409.3" x2="56" y2="329.3" stroke="#444" stroke-width="0.8" />
<line x1="16" y1="421" x2="56" y2="341" stroke="#444" stroke-width="0.8" />
<line x1="16" y1="432.7" x2="56" y2="352.7" stroke="#444" stroke-width="0.8" />
<line x1="16" y1="444.4" x2="56" y2="364.4" stroke="#444" stroke-width="0.8" />
<line x1="16" y1="456.1" x2="56" y2="376.1" stroke="#444" stroke-width="0.8" />
<line x1="16" y1="467.8" x2="56" y2="387.8" stroke="#444" stroke-width="0.8" />
<line x1="16" y1="479.5" x2="56" y2="399.5" stroke="#444" stroke-width="0.8" />
<line x1="16" y1="491.2" x2="56" y2="411.2" stroke="#444" stroke-width="0.8" />
</g>
<polyline points="31,352 41.7,352 41.7,380 28,389" stroke="#3a3a3a" stroke-width="0.7" fill="none" />
<polyline points="75.2,363.5 125.3,363.5 125.3,376.9 116.3,394.9 116.3,414.3 57.2,414.3 57.2,387.4" stroke="#3a3a3a" stroke-width="0.9" fill="none" />
<line x1="73" y1="352" x2="73" y2="414.3" stroke="#3a3a3a" stroke-width="0.9" />
<line x1="76.7" y1="352" x2="76.7" y2="414.3" stroke="#3a3a3a" stroke-width="0.9" />
<line x1="90.9" y1="363.5" x2="90.9" y2="414.3" stroke="#3a3a3a" stroke-width="0.9" />
<line x1="57.2" y1="393.4" x2="116.3" y2="393.4" stroke="#3a3a3a" stroke-width="0.8" />
<line x1="59.5" y1="413" x2="59.5" y2="408" stroke="#3a3a3a" stroke-width="0.6" />
<rect x="58.3" y="387.4" width="13.9" height="20.9" stroke="#3a3a3a" stroke-width="0.8" fill="none" rx="1.5"/>
<line x1="58.3" y1="394.5" x2="72.2" y2="394.5" stroke="#3a3a3a" stroke-width="0.6" />
<line x1="58.3" y1="401.5" x2="72.2" y2="401.5" stroke="#3a3a3a" stroke-width="0.6" />
<rect x="93.1" y="365" width="20.2" height="11.9" stroke="#3a3a3a" stroke-width="0.8" fill="none" rx="2"/>
<rect x="114.8" y="364.2" width="9.7" height="12.7" stroke="#3a3a3a" stroke-width="0.8" fill="none" rx="1"/>
<rect x="93.1" y="379.9" width="15.7" height="12.7" stroke="#3a3a3a" stroke-width="0.8" fill="none" rx="2"/>
<polygon points="111.8,379.6 120.8,379.6 112.6,394 104.3,394" stroke="#3a3a3a" stroke-width="0.8" fill="none" />
<line x1="100" y1="371.5" x2="103" y2="369.5" stroke="#444" stroke-width="0.9" />
<line x1="118" y1="370" x2="121" y2="368.5" stroke="#444" stroke-width="0.9" />
<line x1="100" y1="387" x2="102.5" y2="385" stroke="#444" stroke-width="1.0" />
<path d="M109.6,363.5 V353.5 q1.5,-1.5 3,0 V363.5" stroke="#3a3a3a" stroke-width="0.9" fill="none" />
<path d="M64.5,362 q1.5,5 5,5 l2.5,-4 M66.5,361.5 l2,3.5" stroke="#3a3a3a" stroke-width="0.8" fill="none" />
<line x1="81.6" y1="380.9" x2="128.2" y2="436.4" stroke="#3a3a3a" stroke-width="0.8" />
<text x="0" y="0" font-size="7.5" text-anchor="middle" fill="#3a3a3a" transform="translate(139.5 435) scale(0.78 1)" >11  12</text>
<line x1="128.2" y1="437.5" x2="150" y2="437.5" stroke="#777" stroke-width="0.7" />
<text x="0" y="0" font-size="7" text-anchor="middle" fill="#3a3a3a" transform="translate(196 435) scale(0.78 1)" >10</text>
<line x1="191" y1="437.5" x2="200.7" y2="437.5" stroke="#777" stroke-width="0.7" />
<line x1="200.7" y1="437.5" x2="248" y2="310" stroke="#3a3a3a" stroke-width="0.8" />
<line x1="250.3" y1="347" x2="254.4" y2="357" stroke="#3a3a3a" stroke-width="0.8" />
<line x1="259.1" y1="350.6" x2="256.2" y2="357" stroke="#3a3a3a" stroke-width="0.8" />
<rect x="252.6" y="357" width="5.3" height="13.5" stroke="#3a3a3a" stroke-width="0.8" fill="#ccc" />
<circle cx="255.3" cy="372" r="2.3" stroke="#3a3a3a" stroke-width="0.9" fill="none"/>
<path d="M257.3,374 L259.2,382 Q259.6,387.6 254.5,387.6 Q250.3,387.6 250.5,383 L252,380.5" stroke="#3a3a3a" stroke-width="1.3" fill="none" />
<line x1="262" y1="382.4" x2="310.1" y2="382.4" stroke="#3a3a3a" stroke-width="0.7" />
<line x1="308.5" y1="296" x2="308.5" y2="382.4" stroke="#3a3a3a" stroke-width="0.6" />
<polygon points="308.5,296 307.5,299.5 309.5,299.5" stroke="#3a3a3a" stroke-width="0.3" fill="#3a3a3a" />
<polygon points="308.5,382.4 307.5,378.9 309.5,378.9" stroke="#3a3a3a" stroke-width="0.3" fill="#3a3a3a" />
<text x="0" y="0" font-size="6.5" text-anchor="middle" fill="#3a3a3a" transform="translate(305.5 346.4) rotate(-90) scale(0.78 1)" >H3</text>
<text x="0" y="0" font-size="7" text-anchor="middle" fill="#3a3a3a" transform="translate(241 438.5) scale(0.78 1)" >S±/\S</text>
<line x1="483.6" y1="283" x2="483.6" y2="295.6" stroke="#3a3a3a" stroke-width="0.6" />
<polygon points="483.6,283 482.6,286.5 484.6,286.5" stroke="#3a3a3a" stroke-width="0.3" fill="#3a3a3a" />
<polygon points="483.6,295.6 482.6,292.1 484.6,292.1" stroke="#3a3a3a" stroke-width="0.3" fill="#3a3a3a" />
<line x1="483.6" y1="295.6" x2="483.6" y2="359.6" stroke="#3a3a3a" stroke-width="0.6" />
<text x="0" y="0" font-size="6.5" text-anchor="middle" fill="#3a3a3a" transform="translate(481.5 289.5) rotate(-90) scale(0.78 1)" >&gt;200</text>
<text x="0" y="0" font-size="6.5" text-anchor="middle" fill="#3a3a3a" transform="translate(481.5 321) rotate(-90) scale(0.78 1)" >H</text>
<line x1="448.7" y1="347.3" x2="490" y2="347.3" stroke="#3a3a3a" stroke-width="0.6" />
<line x1="448.7" y1="359.6" x2="490" y2="359.6" stroke="#3a3a3a" stroke-width="0.6" />
<text x="0" y="0" font-size="6.5" text-anchor="middle" fill="#3a3a3a" transform="translate(481.5 353.4) rotate(-90) scale(0.78 1)" >560</text>
<line x1="438.4" y1="357.1" x2="438.4" y2="406.3" stroke="#3a3a3a" stroke-width="0.7" />
<line x1="438.4" y1="406.3" x2="448" y2="406.3" stroke="#3a3a3a" stroke-width="0.6" />
<text x="0" y="0" font-size="7" text-anchor="middle" fill="#3a3a3a" transform="translate(443.5 404.5) scale(0.78 1)" >600</text>
<line x1="400.7" y1="420.6" x2="448.2" y2="420.6" stroke="#3a3a3a" stroke-width="0.6" />
<polygon points="400.7,420.6 404.2,419.6 404.2,421.6" stroke="#3a3a3a" stroke-width="0.3" fill="#3a3a3a" />
<polygon points="448.2,420.6 444.7,419.6 444.7,421.6" stroke="#3a3a3a" stroke-width="0.3" fill="#3a3a3a" />
<text x="0" y="0" font-size="7.5" text-anchor="middle" fill="#3a3a3a" transform="translate(423 417.6) scale(0.78 1)" >1200</text>
<line x1="400.7" y1="369.4" x2="400.7" y2="422" stroke="#3a3a3a" stroke-width="0.7" />
<path d="M396.5,362.5 q1,2 4.5,5.5 M398,362 q2,-1.5 3,0.5 q1,2 1,4 M401.5,360.5 l0.8,5 M404.2,360.5 l0.8,4.5 M400.5,365.5 q2,0 3.5,-1" stroke="#333" stroke-width="0.9" fill="none" />
<clipPath id="c8"><polygon points="442.5,348.5 454.8,348.5 454.8,390.3 442.5,378"/></clipPath>
<g clip-path="url(#c8)">
<line x1="420" y1="173" x2="460" y2="93" stroke="#444" stroke-width="0.8" />
<line x1="420" y1="184.7" x2="460" y2="104.7" stroke="#444" stroke-width="0.8" />
<line x1="420" y1="196.4" x2="460" y2="116.4" stroke="#444" stroke-width="0.8" />
<line x1="420" y1="208.1" x2="460" y2="128.1" stroke="#444" stroke-width="0.8" />
<line x1="420" y1="219.8" x2="460" y2="139.8" stroke="#444" stroke-width="0.8" />
<line x1="420" y1="231.5" x2="460" y2="151.5" stroke="#444" stroke-width="0.8" />
<line x1="420" y1="243.2" x2="460" y2="163.2" stroke="#444" stroke-width="0.8" />
<line x1="420" y1="254.9" x2="460" y2="174.9" stroke="#444" stroke-width="0.8" />
<line x1="420" y1="266.6" x2="460" y2="186.6" stroke="#444" stroke-width="0.8" />
<line x1="420" y1="278.3" x2="460" y2="198.3" stroke="#444" stroke-width="0.8" />
<line x1="420" y1="290" x2="460" y2="210" stroke="#444" stroke-width="0.8" />
<line x1="420" y1="301.7" x2="460" y2="221.7" stroke="#444" stroke-width="0.8" />
<line x1="420" y1="313.4" x2="460" y2="233.4" stroke="#444" stroke-width="0.8" />
<line x1="420" y1="325.1" x2="460" y2="245.1" stroke="#444" stroke-width="0.8" />
<line x1="420" y1="336.8" x2="460" y2="256.8" stroke="#444" stroke-width="0.8" />
<line x1="420" y1="348.5" x2="460" y2="268.5" stroke="#444" stroke-width="0.8" />
<line x1="420" y1="360.2" x2="460" y2="280.2" stroke="#444" stroke-width="0.8" />
<line x1="420" y1="371.9" x2="460" y2="291.9" stroke="#444" stroke-width="0.8" />
<line x1="420" y1="383.6" x2="460" y2="303.6" stroke="#444" stroke-width="0.8" />
<line x1="420" y1="395.3" x2="460" y2="315.3" stroke="#444" stroke-width="0.8" />
<line x1="420" y1="407" x2="460" y2="327" stroke="#444" stroke-width="0.8" />
<line x1="420" y1="418.7" x2="460" y2="338.7" stroke="#444" stroke-width="0.8" />
<line x1="420" y1="430.4" x2="460" y2="350.4" stroke="#444" stroke-width="0.8" />
<line x1="420" y1="442.1" x2="460" y2="362.1" stroke="#444" stroke-width="0.8" />
<line x1="420" y1="453.8" x2="460" y2="373.8" stroke="#444" stroke-width="0.8" />
<line x1="420" y1="465.5" x2="460" y2="385.5" stroke="#444" stroke-width="0.8" />
<line x1="420" y1="477.2" x2="460" y2="397.2" stroke="#444" stroke-width="0.8" />
<line x1="420" y1="488.9" x2="460" y2="408.9" stroke="#444" stroke-width="0.8" />
<line x1="420" y1="500.6" x2="460" y2="420.6" stroke="#444" stroke-width="0.8" />
<line x1="420" y1="512.3" x2="460" y2="432.3" stroke="#444" stroke-width="0.8" />
</g>
<polyline points="442.5,348.5 442.5,378 454.8,390.3" stroke="#3a3a3a" stroke-width="0.7" fill="none" />
<text x="0" y="0" font-size="7" text-anchor="middle" fill="#3a3a3a" transform="translate(590.5 273.6) scale(0.9 1)" >W</text>
<line x1="531.5" y1="275.9" x2="649" y2="275.9" stroke="#3a3a3a" stroke-width="0.6" />
<polygon points="531.5,275.9 535,274.9 535,276.9" stroke="#3a3a3a" stroke-width="0.3" fill="#3a3a3a" />
<polygon points="649,275.9 645.5,274.9 645.5,276.9" stroke="#3a3a3a" stroke-width="0.3" fill="#3a3a3a" />
<text x="0" y="0" font-size="7" text-anchor="middle" fill="#3a3a3a" transform="translate(590.5 281.5) scale(0.9 1)" >LX</text>
<line x1="562.2" y1="284" x2="617.8" y2="284" stroke="#3a3a3a" stroke-width="0.6" />
<polygon points="562.2,284 565.7,283 565.7,285" stroke="#3a3a3a" stroke-width="0.3" fill="#3a3a3a" />
<polygon points="617.8,284 614.3,283 614.3,285" stroke="#3a3a3a" stroke-width="0.3" fill="#3a3a3a" />
<line x1="531.7" y1="272.9" x2="531.7" y2="353" stroke="#3a3a3a" stroke-width="0.6" stroke-dasharray="8,2,2,2"/>
<line x1="648.3" y1="272.9" x2="648.3" y2="353" stroke="#3a3a3a" stroke-width="0.6" stroke-dasharray="8,2,2,2"/>
<line x1="562.2" y1="281" x2="562.2" y2="348" stroke="#3a3a3a" stroke-width="0.6" stroke-dasharray="8,2,2,2"/>
<line x1="617.8" y1="281" x2="617.8" y2="348" stroke="#3a3a3a" stroke-width="0.6" stroke-dasharray="8,2,2,2"/>
<line x1="590.5" y1="286" x2="590.5" y2="348" stroke="#3a3a3a" stroke-width="0.6" stroke-dasharray="8,2,2,2"/>
<rect x="579.2" y="286.4" width="22.2" height="22.7" stroke="#3a3a3a" stroke-width="0.8" fill="none" />
<circle cx="590.3" cy="295.8" r="6.2" stroke="#3a3a3a" stroke-width="0.8" fill="none"/>
<line x1="586" y1="295.8" x2="594.6" y2="295.8" stroke="#3a3a3a" stroke-width="0.8" />
<rect x="557.2" y="308.4" width="65.6" height="11.2" stroke="#3a3a3a" stroke-width="0.8" fill="none" />
<rect x="550.6" y="306.2" width="11.1" height="23.8" stroke="#3a3a3a" stroke-width="0.8" fill="none" />
<line x1="552" y1="306.2" x2="552" y2="330" stroke="#666" stroke-width="1.5" />
<rect x="643.4" y="314.4" width="2.5" height="15.6" stroke="#3a3a3a" stroke-width="0.8" fill="none" />
<line x1="559.6" y1="319.6" x2="564.6" y2="324" stroke="#3a3a3a" stroke-width="0.8" />
<line x1="564.6" y1="319.6" x2="559.6" y2="324" stroke="#3a3a3a" stroke-width="0.8" />
<rect x="557.1" y="325.6" width="11" height="4.4" stroke="#3a3a3a" stroke-width="0.8" fill="none" />
<line x1="615.2" y1="319.6" x2="620.2" y2="324" stroke="#3a3a3a" stroke-width="0.8" />
<line x1="620.2" y1="319.6" x2="615.2" y2="324" stroke="#3a3a3a" stroke-width="0.8" />
<rect x="612.7" y="325.6" width="11" height="4.4" stroke="#3a3a3a" stroke-width="0.8" fill="none" />
<rect x="522.6" y="330.1" width="134.6" height="17.8" stroke="#3a3a3a" stroke-width="0.8" fill="none" />
<rect x="519.2" y="341.02" width="3.4" height="3.8" stroke="#3a3a3a" stroke-width="0.7" fill="none" />
<rect x="657.2" y="341.02" width="3.4" height="3.8" stroke="#3a3a3a" stroke-width="0.7" fill="none" />
<rect x="557" y="347.9" width="11.1" height="7.1" stroke="#3a3a3a" stroke-width="0.8" fill="none" />
<rect x="612.6" y="347.9" width="12.2" height="7.1" stroke="#3a3a3a" stroke-width="0.8" fill="none" />
<line x1="544" y1="347.9" x2="559.6" y2="355.9" stroke="#3a3a3a" stroke-width="0.8" />
<line x1="522.8" y1="344.82" x2="522.8" y2="414" stroke="#3a3a3a" stroke-width="0.6" />
<line x1="661.3" y1="344.82" x2="661.3" y2="414" stroke="#3a3a3a" stroke-width="0.6" />
<text x="0" y="0" font-size="7.5" text-anchor="middle" fill="#222" transform="translate(511.4 262) scale(0.95 1)" >6</text>
<line x1="505.2" y1="265.5" x2="515.6" y2="265.5" stroke="#777" stroke-width="0.7" />
<line x1="505.2" y1="265.5" x2="527.2" y2="331.7" stroke="#3a3a3a" stroke-width="0.8" />
<text x="0" y="0" font-size="7.5" text-anchor="middle" fill="#222" transform="translate(561.1 262) scale(0.95 1)" >8</text>
<line x1="555.7" y1="265.5" x2="564.5" y2="265.5" stroke="#777" stroke-width="0.7" />
<line x1="555.7" y1="265.5" x2="551.9" y2="309.6" stroke="#3a3a3a" stroke-width="0.8" />
<text x="0" y="0" font-size="7.5" text-anchor="middle" fill="#222" transform="translate(641 262) scale(0.95 1)" >7</text>
<line x1="636" y1="265.5" x2="645" y2="265.5" stroke="#777" stroke-width="0.7" />
<line x1="636" y1="265.5" x2="618" y2="320" stroke="#3a3a3a" stroke-width="0.8" />
<text x="0" y="0" font-size="7.5" text-anchor="middle" fill="#222" transform="translate(664.9 262) scale(0.95 1)" >9</text>
<line x1="659.4" y1="265.5" x2="668.5" y2="265.5" stroke="#777" stroke-width="0.7" />
<line x1="659.4" y1="265.5" x2="643.9" y2="316.1" stroke="#3a3a3a" stroke-width="0.8" />
<line x1="519.4" y1="411.7" x2="660.8" y2="411.7" stroke="#3a3a3a" stroke-width="0.6" />
<polygon points="519.4,411.7 522.9,410.7 522.9,412.7" stroke="#3a3a3a" stroke-width="0.3" fill="#3a3a3a" />
<polygon points="660.8,411.7 657.3,410.7 657.3,412.7" stroke="#3a3a3a" stroke-width="0.3" fill="#3a3a3a" />
<text x="0" y="0" font-size="7" text-anchor="middle" fill="#3a3a3a" transform="translate(590.4 408.5) scale(0.78 1)" >B</text>
<line x1="580.5" y1="347.7" x2="585.6" y2="361.3" stroke="#3a3a3a" stroke-width="0.8" />
<line x1="601.8" y1="347.7" x2="596.7" y2="361.3" stroke="#3a3a3a" stroke-width="0.8" />
<circle cx="591.3" cy="362.7" r="6.8" stroke="#3a3a3a" stroke-width="0.8" fill="none"/>
<rect x="589.8" y="361.2" width="3" height="3" stroke="#3a3a3a" stroke-width="0.8" fill="none" />
<line x1="584" y1="362.7" x2="598.6" y2="362.7" stroke="#3a3a3a" stroke-width="0.6" />
<line x1="591.3" y1="355.5" x2="591.3" y2="370" stroke="#3a3a3a" stroke-width="0.6" />
<circle cx="591.3" cy="373.5" r="2" stroke="#3a3a3a" stroke-width="1.2" fill="none"/>
<path d="M592.5,375.5 Q596,379 594.5,383.5 Q592,387.5 588.5,385 Q586.5,383 588,380" stroke="#3a3a3a" stroke-width="1.4" fill="none" />
<rect x="613.8" y="347.7" width="9.4" height="8.5" stroke="#3a3a3a" stroke-width="0.8" fill="none" />
<path d="M616.4,356.2 V397 q0,3 3,3 H655 q3,0 3,-3 V356.2" stroke="#3a3a3a" stroke-width="0.8" fill="none" />
<line x1="623.2" y1="348.5" x2="658" y2="348.5" stroke="#3a3a3a" stroke-width="0.7" />
<line x1="623.2" y1="351.5" x2="658" y2="351.5" stroke="#888" stroke-width="0.7" />
<line x1="623.2" y1="354" x2="658" y2="354" stroke="#888" stroke-width="0.7" />
<line x1="634.3" y1="356.2" x2="634.3" y2="400" stroke="#3a3a3a" stroke-width="1.2" />
<line x1="634.3" y1="363.9" x2="658" y2="363.9" stroke="#3a3a3a" stroke-width="0.8" />
<line x1="624" y1="361.5" x2="630" y2="361.5" stroke="#555" stroke-width="1.0" />
<line x1="624" y1="368.3" x2="630" y2="368.3" stroke="#555" stroke-width="1.0" />
<line x1="624" y1="373.3" x2="630" y2="373.3" stroke="#555" stroke-width="1.0" />
<line x1="624" y1="380.3" x2="630" y2="380.3" stroke="#555" stroke-width="1.0" />
<line x1="624" y1="385.5" x2="630" y2="385.5" stroke="#555" stroke-width="1.0" />
<line x1="624" y1="394" x2="630" y2="394" stroke="#555" stroke-width="1.0" />
<line x1="635.5" y1="381" x2="638" y2="381" stroke="#3a3a3a" stroke-width="0.8" />
</svg>
<div class="wm">www.hdqzj.com</div>
</body></html>
